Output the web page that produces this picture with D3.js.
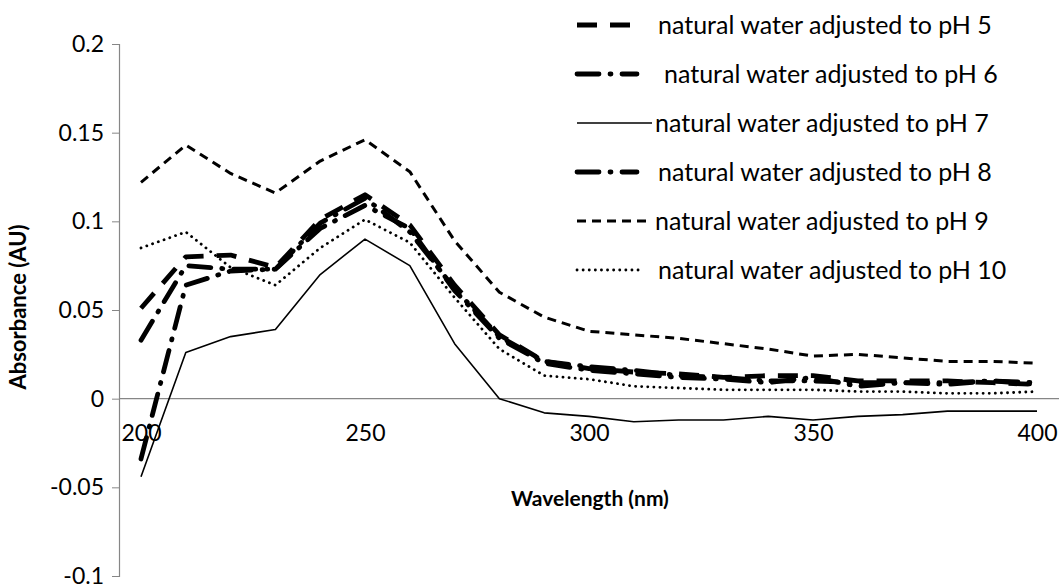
<!DOCTYPE html>
<html>
<head>
<meta charset="utf-8">
<script src="https://cdn.jsdelivr.net/npm/d3@7"></script>
<style>
  body { margin: 0; background: #fff; }
  text { font-family: Lato, "Open Sans", sans-serif; fill: #000; }
</style>
</head>
<body>
<svg width="1059" height="587"></svg>
<script>
var wavelengths = [200,210,220,230,240,250,260,270,280,290,300,310,320,330,340,350,360,370,380,390,400];

var ph5  = [0.051,0.080,0.081,0.074,0.101,0.115,0.098,0.064,0.036,0.021,0.017,0.015,0.014,0.012,0.013,0.013,0.010,0.010,0.010,0.009,0.008];
var ph6  = [-0.034,0.064,0.072,0.073,0.096,0.109,0.096,0.061,0.034,0.020,0.016,0.014,0.012,0.011,0.009,0.012,0.007,0.009,0.008,0.010,0.008];
var ph7  = [-0.044,0.026,0.035,0.039,0.070,0.090,0.075,0.031,0.000,-0.008,-0.010,-0.013,-0.012,-0.012,-0.010,-0.012,-0.010,-0.009,-0.007,-0.007,-0.007];
var ph8  = [0.033,0.075,0.073,0.073,0.099,0.113,0.094,0.062,0.035,0.021,0.018,0.016,0.013,0.012,0.010,0.010,0.009,0.009,0.009,0.010,0.009];
var ph9  = [0.122,0.143,0.127,0.116,0.134,0.146,0.128,0.089,0.060,0.046,0.038,0.036,0.034,0.031,0.028,0.024,0.025,0.023,0.021,0.021,0.020];
var ph10 = [0.085,0.094,0.074,0.064,0.085,0.101,0.088,0.057,0.028,0.013,0.011,0.007,0.006,0.005,0.005,0.005,0.004,0.004,0.003,0.003,0.004];

var seriesNames = ["natural water adjusted to pH 5", " natural water adjusted to pH 6", "natural water adjusted to pH 7",
                   "natural water adjusted to pH 8", "natural water adjusted to pH 9", "natural water adjusted to pH 10"];
var xTicks = [200,250,300,350,400];
var yTicks = [-0.1,-0.05,0,0.05,0.1,0.15,0.2];

// line styles per series
var styles = [
  {w:4.8, dash:"20,13", cap:"butt"},
  {w:4.8, dash:"22,11,1,11", cap:"round"},
  {w:1.6, dash:null, cap:"butt"},
  {w:4.8, dash:"22,11,1,11", cap:"round"},
  {w:3, dash:"9,6", cap:"butt"},
  {w:2.8, dash:"0.1,6", cap:"round"}
];
var allSeries = [ph5, ph6, ph7, ph8, ph9, ph10];

var svg = d3.select("svg");

var x = d3.scaleLinear().domain([200,400]).range([141,1037]);
var y = d3.scaleLinear().domain([-0.1,0.2]).range([576,44]);

// y axis
var yAxis = d3.axisLeft(y).tickValues(yTicks).tickSize(7).tickPadding(8)
  .tickFormat(function(d){ return String(+d.toFixed(2)); });
var gy = svg.append("g").attr("transform","translate(119,0)").call(yAxis);
gy.select(".domain").attr("stroke","#868686").attr("stroke-width",1.2);
gy.selectAll(".tick line").attr("stroke","#868686");
gy.selectAll("text").style("font-size","23px").attr("fill","#000");

// zero line (category axis)
svg.append("line").attr("x1",119).attr("x2",1059).attr("y1",y(0)).attr("y2",y(0))
  .attr("stroke","#868686").attr("stroke-width",1.2);

// x tick labels (low position)
var xAxis = d3.axisBottom(x).tickValues(xTicks).tickSize(0).tickPadding(0);
var gx = svg.append("g").attr("transform","translate(0,425)").call(xAxis);
gx.select(".domain").remove();
gx.selectAll("text").style("font-size","23px").attr("fill","#000");

// lines
var line = d3.line().x(function(d,i){ return x(wavelengths[i]); }).y(function(d){ return y(d); });
allSeries.forEach(function(s, i){
  var st = styles[i];
  svg.append("path").datum(s).attr("d", line)
    .attr("fill","none").attr("stroke","#000")
    .attr("stroke-width", st.w)
    .attr("stroke-linecap", st.cap)
    .attr("stroke-linejoin","round")
    .attr("stroke-dasharray", st.dash);
});

// axis titles
svg.append("text").attr("transform","translate(26,307) rotate(-90)")
  .attr("text-anchor","middle").style("font-size","22px").style("font-weight","bold")
  .text("Absorbance (AU)");
svg.append("text").attr("x",590).attr("y",506)
  .attr("text-anchor","middle").style("font-size","21px").style("font-weight","bold")
  .text("Wavelength (nm)");

// legend
var legendRows = [25,74,123,172,221,270];
var legendSamples = [[577,632],[577,637],[577,652],[577,637],[577,652],[577,640]];
var legendTextX = [658,664,655,658,655,658];
seriesNames.forEach(function(name, i){
  var st = styles[i];
  svg.append("line").attr("x1",legendSamples[i][0]).attr("x2",legendSamples[i][1])
    .attr("y1",legendRows[i]).attr("y2",legendRows[i])
    .attr("stroke","#000").attr("stroke-width",st.w)
    .attr("stroke-linecap",st.cap).attr("stroke-dasharray",st.dash);
  svg.append("text").attr("x",legendTextX[i]).attr("y",legendRows[i]).attr("dy","0.35em")
    .style("font-size","25px").text(name.trim());
});
</script>
</body>
</html>
